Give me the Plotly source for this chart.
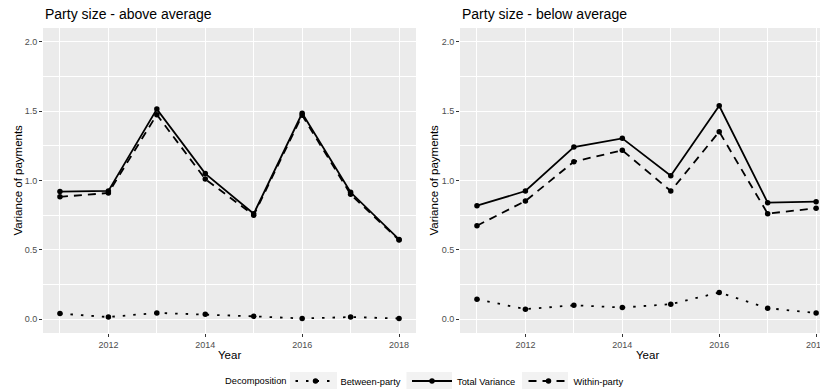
import plotly.graph_objects as go
from plotly.subplots import make_subplots

years = [2011, 2012, 2013, 2014, 2015, 2016, 2017, 2018]

above_total = [0.92, 0.925, 1.515, 1.05, 0.76, 1.485, 0.915, 0.575]
above_within = [0.882, 0.91, 1.475, 1.01, 0.75, 1.47, 0.90, 0.57]
above_between = [0.04, 0.015, 0.045, 0.035, 0.02, 0.005, 0.015, 0.005]

below_total = [0.818, 0.924, 1.241, 1.304, 1.035, 1.539, 0.84, 0.847]
below_within = [0.674, 0.852, 1.136, 1.218, 0.924, 1.352, 0.761, 0.80]
below_between = [0.144, 0.072, 0.10, 0.084, 0.108, 0.192, 0.079, 0.045]

series_names = ["Between-party", "Total Variance", "Within-party"]
panel_titles = ["Party size - above average", "Party size - below average"]

W, H = 820, 389
FONT = "Liberation Sans, Arial, Helvetica, sans-serif"

fig = make_subplots(rows=1, cols=2)

dash_styles = {
    "Between-party": "2.5px,8px",
    "Total Variance": "solid",
    "Within-party": "8px,6px",
}

panels = [
    (above_between, above_total, above_within),
    (below_between, below_total, below_within),
]

for ci, vals in enumerate(panels, start=1):
    for name, v in zip(series_names, vals):
        fig.add_trace(
            go.Scatter(
                x=years, y=v, mode="lines+markers", name=name,
                line=dict(color="black", width=1.8, dash=dash_styles[name]),
                marker=dict(color="black", size=5.5),
                showlegend=(ci == 1), legendgroup=name,
            ),
            row=1, col=ci,
        )

ytop = (H - 28) / H
ybot = (H - 333) / H
xdoms = [(43 / W, 416 / W), (460 / W, 1.0)]
xranges = [[2010.65, 2018.35], [2010.65, 2018.08]]

for i in range(2):
    xa = "xaxis" if i == 0 else "xaxis2"
    ya = "yaxis" if i == 0 else "yaxis2"
    fig.layout[xa].update(
        domain=list(xdoms[i]), range=xranges[i], automargin=False,
        tickvals=[2012, 2014, 2016, 2018], ticktext=["2012", "2014", "2016", "2018"],
        ticklabeloverflow="allow",
        showgrid=True, gridcolor="white", gridwidth=1.1,
        minor=dict(tickvals=[2011, 2013, 2015, 2017], showgrid=True, gridcolor="white", gridwidth=0.5, ticks=""),
        ticks="outside", ticklen=3, tickcolor="#333333", tickwidth=1,
        tickfont=dict(size=9, color="#4D4D4D", family=FONT),
        zeroline=False, showline=False,
    )
    fig.layout[ya].update(
        domain=[ybot, ytop], range=[-0.1, 2.1], automargin=False,
        tickvals=[0, 0.5, 1.0, 1.5, 2.0], ticktext=["0.0", "0.5", "1.0", "1.5", "2.0"],
        showgrid=True, gridcolor="white", gridwidth=1.1,
        minor=dict(tickvals=[0.25, 0.75, 1.25, 1.75], showgrid=True, gridcolor="white", gridwidth=0.5, ticks=""),
        ticks="outside", ticklen=3, tickcolor="#333333", tickwidth=1,
        tickfont=dict(size=9, color="#4D4D4D", family=FONT),
        zeroline=False, showline=False,
    )

annotations = []
for i, t in enumerate(panel_titles):
    annotations.append(dict(
        text=t, x=xdoms[i][0], y=(H - 14) / H, xref="paper", yref="paper",
        xanchor="left", yanchor="middle", showarrow=False,
        font=dict(size=14, color="black", family=FONT),
    ))
for cx in [(43 + 416) / 2 / W, 647 / W]:
    annotations.append(dict(
        text="Year", x=cx, y=(H - 355) / H, xref="paper", yref="paper",
        xanchor="center", yanchor="middle", showarrow=False,
        font=dict(size=11.5, color="black", family=FONT),
    ))
for lx in [17 / W, 433 / W]:
    annotations.append(dict(
        text="Variance of payments", x=lx, y=(ybot + ytop) / 2, xref="paper", yref="paper",
        xanchor="center", yanchor="middle", textangle=-90, showarrow=False,
        font=dict(size=11.5, color="black", family=FONT),
    ))
# legend title
annotations.append(dict(
    text="Decomposition", x=223 / W, y=(H - 381) / H, xref="paper", yref="paper",
    xanchor="left", yanchor="middle", showarrow=False,
    font=dict(size=9.3, color="black", family=FONT),
))

# light grey legend-key backgrounds (ggplot style)
key_boxes = [(290, 337), (406.5, 452), (522, 568)]
shapes = []
for x0, x1 in key_boxes:
    shapes.append(dict(
        type="rect", xref="paper", yref="paper",
        x0=x0 / W, x1=x1 / W, y0=0, y1=(H - 372) / H,
        fillcolor="#F2F2F2", line=dict(width=0), layer="below",
    ))

fig.update_layout(
    width=W, height=H,
    margin=dict(l=0, r=0, t=0, b=0, autoexpand=False),
    paper_bgcolor="white", plot_bgcolor="#EBEBEB",
    annotations=annotations, shapes=shapes,
    legend=dict(
        orientation="h", x=290.5 / W, xanchor="left", y=(H - 381) / H, yanchor="middle",
        font=dict(size=9.3, color="black", family=FONT),
        itemwidth=40, entrywidth=61.5, entrywidthmode="pixels",
        bgcolor="rgba(0,0,0,0)", tracegroupgap=0,
    ),
    font=dict(family=FONT),
)

fig.write_html("out.html")
